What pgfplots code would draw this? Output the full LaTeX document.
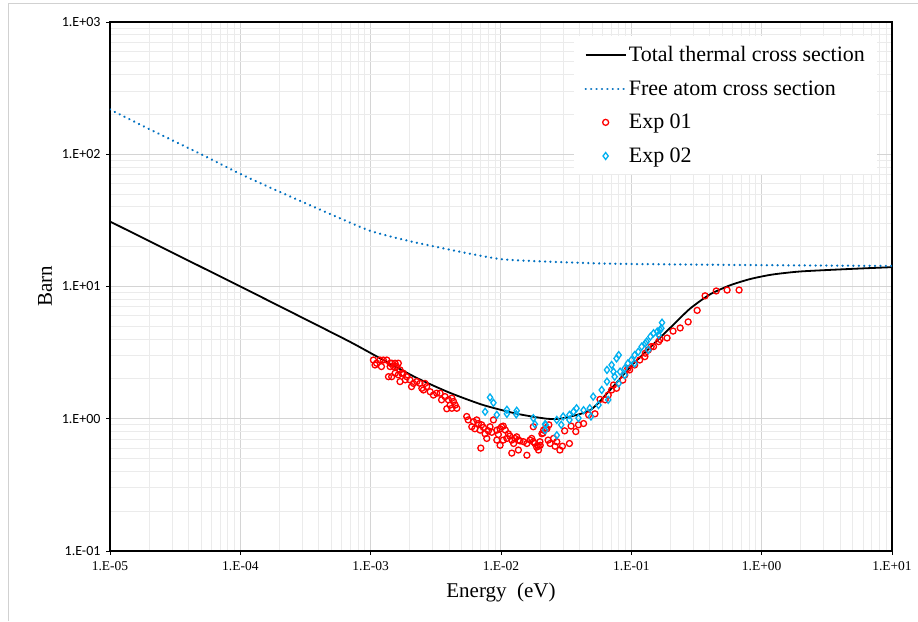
\documentclass[border=0pt]{standalone}
\usepackage{fontspec}
\setmainfont{Liberation Serif}
\newfontfamily\carlito{Carlito}
\usepackage{pgfplots}
\pgfplotsset{compat=1.18}

\definecolor{exred}{HTML}{FF0000}
\definecolor{excyan}{HTML}{00B0F0}
\definecolor{freeblue}{HTML}{0070C0}

\begin{document}
\begin{tikzpicture}
\useasboundingbox (0,0) rectangle (918pt,621pt);
\draw[black!18, line width=1pt] (8pt,0) -- (8pt,617pt) -- (918pt,617pt);
\begin{axis}[
  at={(110pt,70pt)}, anchor=south west,
  scale only axis, width=782pt, height=529pt,
  xmode=log, ymode=log,
  xmin=1e-5, xmax=10, ymin=0.1, ymax=1000,
  xtick={1e-5,1e-4,1e-3,1e-2,1e-1,1,10},
  xticklabels={1.E-05,1.E-04,1.E-03,1.E-02,1.E-01,1.E+00,1.E+01},
  ytick={0.1,1,10,100,1000},
  yticklabels={1.E-01,1.E+00,1.E+01,1.E+02,1.E+03},
  tick pos=left, tick align=outside,
  major tick length=4pt, minor tick length=0pt,
  tick style={black, line width=0.9pt},
  axis line style={black, line width=1.2pt},
  grid=both,
  major grid style={draw=black!17, line width=1pt},
  minor grid style={draw=black!8, line width=1pt},
  xticklabel style={font=\fontsize{13.5}{16}\selectfont, yshift=-3pt},
  yticklabel style={font=\carlito\fontsize{14}{17}\selectfont, xshift=-2pt},
  xlabel={Energy~~(eV)},
  ylabel={Barn},
  every axis x label/.style={at={(axis description cs:0.5,-0.079)}, anchor=center, font=\fontsize{21}{25}\selectfont},
  every axis y label/.style={at={(axis description cs:-0.083,0.5)}, rotate=90, anchor=center, font=\fontsize{21}{25}\selectfont},
  legend style={at={(0.981,0.973)}, anchor=north east, draw=none, fill=white,
    font=\fontsize{22}{26}\selectfont, row sep=13.5pt, inner xsep=10pt, inner ysep=8pt},
  legend cell align=left,
  legend image code/.code={\draw[mark repeat=2,mark phase=2,#1] plot coordinates {(0cm,0cm) (0.7cm,0cm) (1.4cm,0cm)};},
]
\addplot[black, line width=1.8pt, smooth, tension=0.4] coordinates {
(1e-5,31.0) (1e-4,10.0) (3e-4,5.8) (7e-4,3.8) (1.25e-3,2.78) (2.27e-3,2.03)
(4.06e-3,1.57) (7.3e-3,1.27) (1.33e-2,1.09) (2.26e-2,1.00) (3.0e-2,1.01)
(4.83e-2,1.16) (6.87e-2,1.65) (9.8e-2,2.46) (0.139,3.45) (0.2,4.9) (0.282,6.8)
(0.4,8.7) (0.57,10.2) (0.82,11.4) (1.2,12.3) (2,13.0) (5,13.6) (10,14.0)};
\addlegendentry{Total thermal cross section}
\addplot[freeblue, line width=2.5pt, line cap=round, dash pattern=on 0.01pt off 5.4pt, smooth, tension=0.4] coordinates {
(1e-5,218) (2e-5,155) (5e-5,100) (1e-4,71) (2e-4,52) (5e-4,35) (1e-3,26.3)
(2e-3,22.0) (5e-3,18.2) (1e-2,16.1) (2e-2,15.5) (5e-2,15.0) (1e-1,14.8)
(1,14.5) (10,14.3)};
\addlegendentry{Free atom cross section}
\addplot[only marks, mark=o, mark size=3pt, exred, mark options={line width=1.3pt}] coordinates {
(1.05e-3,2.78)(1.08e-3,2.55)(1.11e-3,2.63)(1.18e-3,2.78)(1.21e-3,2.48)(1.25e-3,2.78)
(1.33e-3,2.78)(1.37e-3,2.08)(1.41e-3,2.63)(1.41e-3,2.48)(1.45e-3,2.63)(1.45e-3,2.08)
(1.50e-3,2.48)(1.54e-3,2.63)(1.54e-3,2.21)(1.58e-3,2.48)(1.63e-3,2.63)(1.63e-3,2.15)
(1.68e-3,2.34)(1.68e-3,1.91)(1.73e-3,2.21)(1.78e-3,2.21)(1.84e-3,1.97)(1.89e-3,2.08)
(2.0e-3,1.97)(2.06e-3,1.75)(2.13e-3,1.85)(2.26e-3,1.91)(2.39e-3,1.85)(2.47e-3,1.70)
(2.54e-3,1.65)(2.61e-3,1.85)(2.69e-3,1.75)(2.86e-3,1.60)(3.03e-3,1.51)(3.21e-3,1.56)
(3.41e-3,1.56)(3.5e-3,1.39)(3.72e-3,1.47)(3.84e-3,1.19)(3.95e-3,1.39)(4.07e-3,1.27)
(4.2e-3,1.43)(4.2e-3,1.20)(4.32e-3,1.35)(4.45e-3,1.27)(4.58e-3,1.20)
(5.46e-3,1.04)(5.6e-3,0.98)(5.97e-3,0.87)(6.15e-3,0.95)(6.3e-3,0.84)(6.52e-3,0.98)
(6.7e-3,0.92)(6.92e-3,0.82)(7.0e-3,0.60)(7.1e-3,0.90)(7.33e-3,0.86)(7.55e-3,0.77)
(7.78e-3,0.71)(8.0e-3,0.81)(8.24e-3,0.87)(8.5e-3,0.79)(8.75e-3,0.98)(9.29e-3,0.82)
(9.29e-3,0.69)(9.55e-3,0.76)(9.84e-3,0.84)(9.84e-3,0.63)(1.01e-2,0.87)(1.04e-2,0.88)
(1.04e-2,0.69)(1.08e-2,0.82)(1.11e-2,0.71)(1.14e-2,0.77)(1.17e-2,0.74)(1.21e-2,0.69)
(1.21e-2,0.55)(1.25e-2,0.65)(1.28e-2,0.71)(1.32e-2,0.73)(1.36e-2,0.69)(1.36e-2,0.58)
(1.40e-2,0.68)(1.49e-2,0.67)(1.58e-2,0.65)(1.58e-2,0.53)(1.67e-2,0.69)(1.72e-2,0.71)
(1.77e-2,0.67)(1.77e-2,0.87)(1.82e-2,0.65)(1.88e-2,0.61)(1.93e-2,0.62)(1.94e-2,0.58)
(1.99e-2,0.67)(2.0e-2,0.63)(2.06e-2,0.77)(2.10e-2,0.78)(2.12e-2,0.82)(2.2e-2,0.85)
(2.25e-2,0.84)(2.3e-2,0.69)(2.33e-2,0.90)(2.38e-2,0.65)(2.53e-2,0.71)(2.6e-2,0.62)
(2.68e-2,0.67)(2.83e-2,0.58)(2.96e-2,0.62)(3.08e-2,0.81)(3.35e-2,0.65)(3.45e-2,0.88)
(3.75e-2,0.80)(3.93e-2,0.90)(4.3e-2,0.92)(4.7e-2,1.07)(5.26e-2,1.09)(5.75e-2,1.40)
(6.3e-2,1.39)(6.65e-2,1.51)(7.06e-2,1.65)(7.3e-2,1.80)(7.7e-2,1.70)(8.6e-2,1.96)
(8.9e-2,2.14)(9.4e-2,2.40)(9.7e-2,2.34)(0.106,2.55)(0.116,2.78)(0.127,2.95)
(0.128,3.13)(0.135,3.31)(0.142,3.51)(0.148,3.51)(0.162,3.83)(0.166,3.98)
(0.188,4.08)(0.209,4.6)(0.237,4.86)(0.273,5.4)(0.32,6.6)(0.368,8.5)
(0.448,9.25)(0.543,9.4)(0.671,9.4)};
\addlegendentry{Exp 01}
\addplot[only marks, mark=diamond, mark size=3.5pt, excyan, mark options={line width=1.3pt}] coordinates {
(7.55e-3,1.13)(8.24e-3,1.45)(8.75e-3,1.32)(9.29e-3,1.07)(1.11e-2,1.17)(1.11e-2,1.09)
(1.31e-2,1.08)(1.32e-2,1.15)(1.77e-2,1.01)(1.82e-2,0.91)(2.18e-2,0.91)(2.18e-2,0.82)
(2.2e-2,0.90)(2.68e-2,0.75)(2.68e-2,0.98)(2.9e-2,0.90)(3.0e-2,1.04)(3.35e-2,1.07)
(3.35e-2,0.98)(3.6e-2,1.13)(3.8e-2,1.20)(3.93e-2,1.01)(4.3e-2,1.16)(4.8e-2,1.20)
(4.9e-2,1.04)(5.1e-2,1.47)(5.6e-2,1.27)(5.93e-2,1.65)(6.5e-2,1.91)(6.5e-2,2.34)
(6.65e-2,1.39)(7.06e-2,2.55)(7.3e-2,2.27)(7.45e-2,2.08)(7.7e-2,2.86)(8.0e-2,3.03)
(8.0e-2,1.85)(8.2e-2,2.27)(8.9e-2,2.40)(8.9e-2,2.14)(9.4e-2,2.62)(0.100,2.78)
(0.106,3.03)(0.106,2.62)(0.113,3.21)(0.120,3.51)(0.128,3.72)(0.131,3.83)
(0.135,3.31)(0.140,4.18)(0.148,4.43)(0.158,4.56)(0.162,4.30)(0.166,4.69)
(0.170,4.83)(0.172,5.33)};
\addlegendentry{Exp 02}
\end{axis}
\end{tikzpicture}
\end{document}
